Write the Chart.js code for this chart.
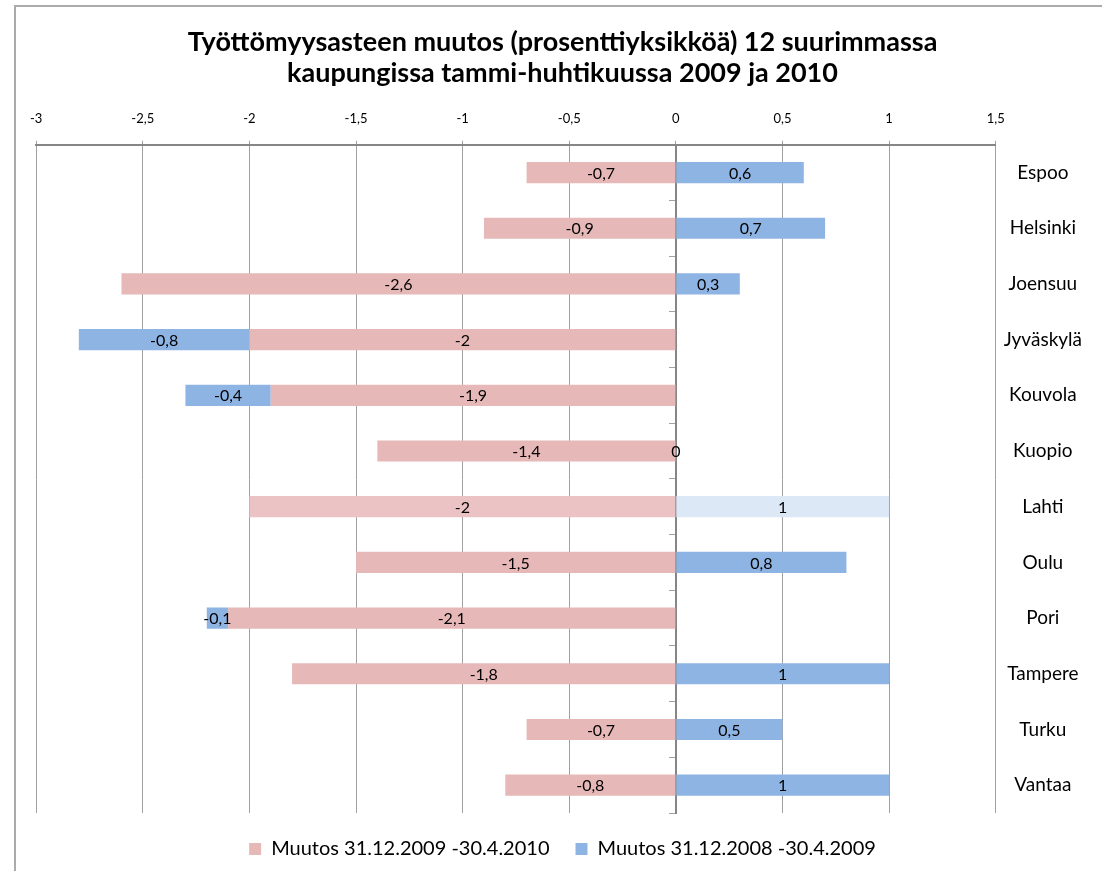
<!DOCTYPE html>
<html>
<head>
<meta charset="utf-8">
<script src="https://cdn.jsdelivr.net/npm/chart.js@4/dist/chart.umd.min.js"></script>
<style>
  html, body { margin: 0; padding: 0; background: #fff; overflow: hidden; }
  #wrap {
    position: absolute; left: 14px; top: 5px;
    width: 1106px; height: 866px;
    border-left: 2px solid #ababab; border-top: 2px solid #ababab;
  }
  canvas { display: block; }
</style>
</head>
<body>
<div id="wrap"><canvas id="chart" width="1104" height="864"></canvas></div>
<script>
// ─────────────────────────────────────────────
// Data
// ─────────────────────────────────────────────
const cities = ["Espoo", "Helsinki", "Joensuu", "Jyväskylä", "Kouvola", "Kuopio",
                "Lahti", "Oulu", "Pori", "Tampere", "Turku", "Vantaa"];
const change2010 = [-0.7, -0.9, -2.6, -2, -1.9, -1.4, -2, -1.5, -2.1, -1.8, -0.7, -0.8];
const change2009 = [0.6, 0.7, 0.3, -0.8, -0.4, 0, 1, 0.8, -0.1, 1, 0.5, 1];
const seriesNames = ["Muutos 31.12.2009 -30.4.2010", "Muutos 31.12.2008 -30.4.2009"];
const titleLines = ["Työttömyysasteen muutos (prosenttiyksikköä) 12 suurimmassa",
                    "kaupungissa tammi-huhtikuussa 2009 ja 2010"];

const PINK = "#e6b9b8";
const BLUE = "#8eb4e3";
const PINK_TEX = "#ebc3c4";   // Lahti uses a textured fill in the original
const BLUE_TEX = "#dde8f7";
const FONT = "Lato, 'Open Sans', sans-serif";

const fmt = v => String(v).replace(".", ",");

// ─────────────────────────────────────────────
// Plugin: value labels in the middle of each bar
// ─────────────────────────────────────────────
const barLabels = {
  id: "barLabels",
  afterDatasetsDraw(chart) {
    const ctx = chart.ctx;
    const xs = chart.scales.x;
    ctx.save();
    ctx.font = `16px ${FONT}`;
    ctx.fillStyle = "#000";
    ctx.textAlign = "center";
    ctx.textBaseline = "middle";
    chart.data.datasets.forEach((ds, di) => {
      chart.getDatasetMeta(di).data.forEach((bar, i) => {
        const p = bar.getCenterPoint();
        // zero-length bars sit on the 0 line in the original
        const x = ds.data[i] === 0 ? xs.getPixelForValue(0) : p.x;
        ctx.fillText(fmt(ds.data[i]), x, p.y + 1);
      });
    });
    ctx.restore();
  }
};

new Chart(document.getElementById("chart"), {
  type: "bar",
  data: {
    labels: cities,
    datasets: [
      {
        label: seriesNames[0],
        data: change2010,
        backgroundColor: cities.map(c => c === "Lahti" ? PINK_TEX : PINK),
        barPercentage: 0.38,
        categoryPercentage: 1,
      },
      {
        label: seriesNames[1],
        data: change2009,
        backgroundColor: cities.map(c => c === "Lahti" ? BLUE_TEX : BLUE),
        barPercentage: 0.38,
        categoryPercentage: 1,
      }
    ]
  },
  options: {
    indexAxis: "y",
    responsive: false,
    animation: false,
    layout: { padding: { left: 19, right: 30, top: 10, bottom: 2 } },
    plugins: {
      title: {
        display: true,
        text: titleLines,
        color: "#000",
        font: { family: FONT, size: 27, weight: "bold", lineHeight: 1.15 },
        padding: { top: 10, bottom: 8 }
      },
      legend: {
        position: "bottom",
        labels: {
          color: "#000",
          font: { family: FONT, size: 20 },
          boxWidth: 12,
          boxHeight: 12,
          padding: 26,
          generateLabels: chart => chart.data.datasets.map((ds, i) => ({
            text: ds.label,
            fillStyle: i === 0 ? PINK : BLUE,
            strokeStyle: i === 0 ? PINK : BLUE,
            lineWidth: 0,
            datasetIndex: i
          }))
        }
      },
      tooltip: { enabled: false }
    },
    scales: {
      x: {
        position: "top",
        stacked: true,
        min: -3,
        max: 1.5,
        ticks: {
          stepSize: 0.5,
          color: "#000",
          font: { family: FONT, size: 13 },
          padding: 14,
          callback: v => fmt(v)
        },
        grid: { color: "#a0a0a0", tickColor: "#a0a0a0", tickLength: 4 },
        border: { color: "#868686", width: 2 }
      },
      y: {
        position: { x: 0 },
        stacked: true,
        ticks: { display: false },
        grid: {
          drawOnChartArea: false,
          offset: true,
          tickLength: 6,
          tickColor: "#a0a0a0"
        },
        border: { color: "#868686", width: 2 }
      },
      y2: {
        type: "category",
        position: "right",
        offset: true,
        ticks: {
          color: "#000",
          font: { family: FONT, size: 19 },
          crossAlign: "center",
          padding: 8
        },
        grid: { display: false, drawTicks: false },
        border: { display: false }
      }
    }
  },
  plugins: [barLabels]
});
</script>
</body>
</html>
